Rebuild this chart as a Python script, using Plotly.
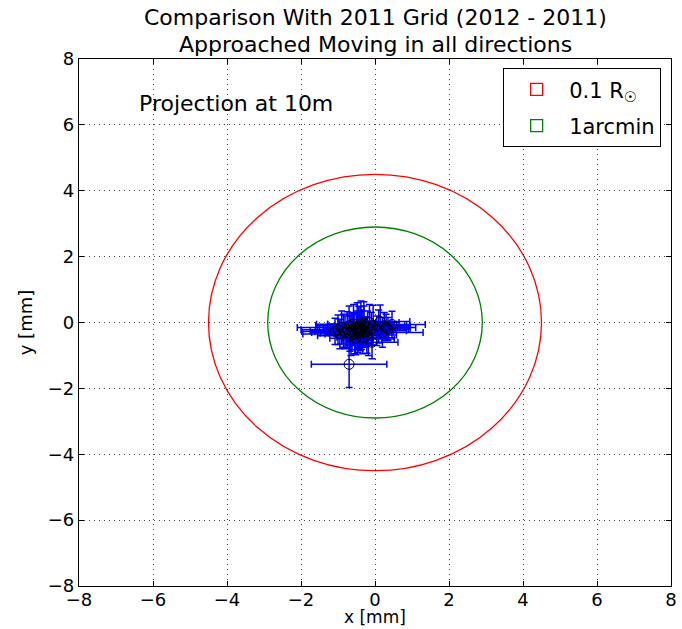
import plotly.graph_objects as go

# Measured offsets (mm) with uncertainties
x_vals = [-0.81, -1.08, 0.14, 0.46, -0.08, -0.40, -0.35, -0.45, -0.30, -0.50, -0.60,
          -0.25, -0.38, -0.55, -0.20, -0.70, -0.42, -0.15, 0.05, 0.25, -0.90, -0.65,
          -0.33, -0.48, -0.10, -0.75, -0.28, -0.40, 0.35, -0.70, -0.95, -0.52, 0.10,
          -0.36, -0.44, -0.58, -0.22, -0.85, 0.20, -0.05, -0.62, -0.30, -0.46, 0.30,
          -1.00, -0.18, -0.40, -0.68]
y_vals = [-0.30, -0.27, 0.03, -0.06, -0.60, -0.12, -0.20, -0.25, -0.10, -0.15, -0.20,
          -0.30, -0.05, -0.35, -0.15, -0.10, -0.30, 0.00, -0.25, -0.10, -0.15, -0.40,
          -0.45, -0.05, -0.20, -0.22, -0.28, -0.18, -0.20, -1.27, -0.35, -0.48, -0.12,
          -0.22, -0.16, -0.05, -0.38, -0.25, -0.30, -0.08, -0.28, -0.02, -0.32, -0.15,
          -0.22, -0.50, -0.26, -0.32]
x_err = [0.9, 0.9, 0.8, 0.9, 0.7, 0.8, 0.9, 0.7, 0.8, 1.0, 0.8,
         0.7, 0.9, 0.8, 0.9, 0.9, 0.6, 0.8, 0.8, 0.7, 1.2, 0.9,
         0.7, 0.8, 1.0, 0.8, 0.6, 0.7, 0.6, 1.02, 1.0, 0.7, 0.7,
         0.8, 0.9, 1.0, 0.8, 0.9, 1.1, 0.9, 1.0, 0.7, 0.8, 0.8,
         1.0, 0.7, 0.9, 0.8]
y_err = [0.5, 0.4, 0.5, 0.4, 0.5, 0.6, 0.55, 0.5, 0.6, 0.5, 0.5,
         0.45, 0.7, 0.6, 0.5, 0.6, 0.5, 0.55, 0.45, 0.4, 0.5, 0.6,
         0.5, 0.65, 0.5, 0.55, 0.45, 0.5, 0.35, 0.70, 0.45, 0.5, 0.5,
         0.6, 0.65, 0.6, 0.55, 0.5, 0.45, 0.6, 0.55, 0.65, 0.6, 0.4,
         0.45, 0.5, 0.6, 0.55]

# Reference circles (radius in mm)
circle_names = ["0.1 R<sub>\u2609</sub>", "1arcmin"]
circle_radii = [4.5, 2.9]
circle_colors = ["#ff0000", "#008000"]

tick_vals = [-8, -6, -4, -2, 0, 2, 4, 6, 8]
tick_text = ["\u22128", "\u22126", "\u22124", "\u22122", "0", "2", "4", "6", "8"]

title_lines = ["Comparison With 2011 Grid (2012 - 2011)", "Approached Moving in all directions"]

FONT = "DejaVu Sans"

fig = go.Figure()

for name, r, c in zip(circle_names, circle_radii, circle_colors):
    fig.add_shape(type="circle", xref="x", yref="y", x0=-r, x1=r, y0=-r, y1=r,
                  line=dict(color=c, width=1.3), fillcolor="rgba(0,0,0,0)", layer="below")

# legend entries as outlined patches
for name, c in zip(circle_names, circle_colors):
    fig.add_trace(go.Bar(
        x=[None], y=[None], name=name, legendgroup=name,
        marker=dict(color="rgba(0,0,0,0)", line=dict(color=c, width=1.3))))

fig.add_trace(go.Scatter(
    x=x_vals, y=y_vals, mode="markers", showlegend=False,
    marker=dict(symbol="circle-open", size=10, color="black", line=dict(width=1)),
    error_x=dict(type="data", array=x_err, color="#0000ff", thickness=1.5, width=3.5),
    error_y=dict(type="data", array=y_err, color="#0000ff", thickness=1.5, width=3.5)))

axis_common = dict(
    range=[-8, 8], tickvals=tick_vals, ticktext=tick_text, automargin=False,
    showgrid=True, gridcolor="#444444", griddash="1px,4px", gridwidth=1,
    zeroline=False, showline=True, linecolor="black", linewidth=1.2, mirror="ticks",
    ticks="inside", ticklen=5, tickcolor="black",
    tickfont=dict(family=FONT, size=18, color="black"),
)

annotations = [dict(text="Projection at 10m", x=0.098, y=0.915, xref="paper", yref="paper",
                    xanchor="left", yanchor="middle", showarrow=False,
                    font=dict(family=FONT, size=22, color="black")),
               dict(text="x [mm]", x=0.5, y=-0.059, xref="paper", yref="paper",
                    xanchor="center", yanchor="middle", showarrow=False,
                    font=dict(family=FONT, size=17, color="black"))]
for txt, yy in zip(title_lines, [1.078, 1.027]):
    annotations.append(dict(text=txt, x=0.5, y=yy, xref="paper", yref="paper",
                            xanchor="center", yanchor="middle", showarrow=False,
                            font=dict(family=FONT, size=22, color="black")))

fig.update_layout(
    width=682, height=629,
    margin=dict(l=79, r=11, t=59, b=43),
    paper_bgcolor="white", plot_bgcolor="white",
    xaxis=dict(**axis_common, ticklabelstandoff=-3),
    yaxis=dict(**axis_common, title=dict(text="y [mm]", font=dict(family=FONT, size=18, color="black"), standoff=10)),
    legend=dict(x=0.983, y=0.983, xanchor="right", yanchor="top",
                bgcolor="white", bordercolor="black", borderwidth=1.2,
                tracegroupgap=6,
                font=dict(family=FONT, size=21, color="black"), itemwidth=55),
    annotations=annotations,
)

fig.write_html("out.html", config={"displayModeBar": False},
               post_script="document.body.style.margin='0';")
